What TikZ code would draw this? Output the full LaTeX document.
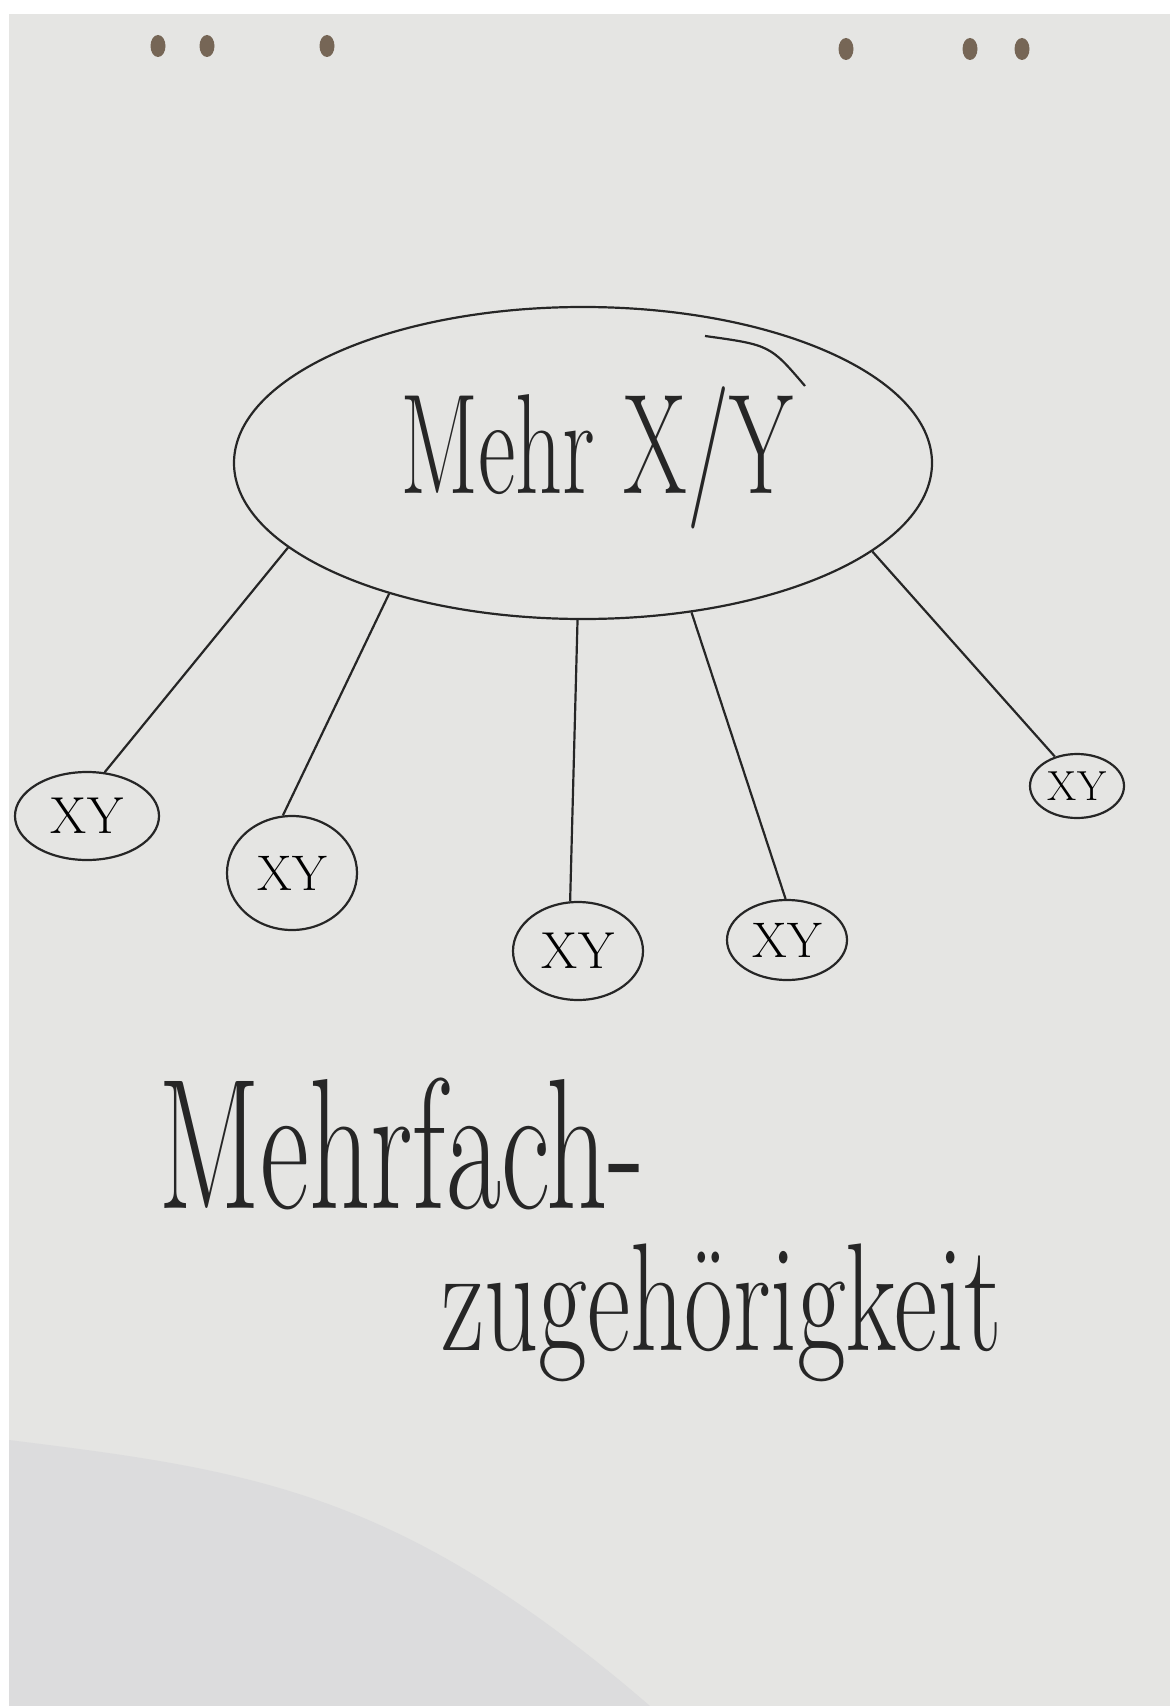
\documentclass[tikz,border=0pt]{standalone}
\usepackage{graphicx}
\usetikzlibrary{shapes.geometric}
\definecolor{paper}{RGB}{229,229,227}
\definecolor{crease}{RGB}{220,220,221}
\definecolor{hole}{RGB}{118,102,86}
\definecolor{ink}{RGB}{38,38,38}

\begin{document}
\begin{tikzpicture}[x=0.5pt,y=-0.5pt,
    pen/.style={draw=ink,line width=1.1pt},
    bubble/.style={pen,ellipse,inner sep=0pt},
    hand/.style={text=ink,inner sep=0pt,anchor=base west}]
  \useasboundingbox (0,0) rectangle (1170,1706);
  % sheet
  \fill[white] (0,0) rectangle (1170,1706);
  \fill[paper] (9,14) rectangle (1170,1706);
  \fill[crease] (9,1440) .. controls (250,1470) and (400,1490) .. (650,1706) -- (9,1706) -- cycle;
  % punch holes
  \foreach \px/\py in {158/46,207/46,327/46,846/49,970/49,1022/49}
    \fill[hole] (\px,\py) ellipse (7.5 and 11);
  % big bubble
  \node[bubble,minimum width=349pt,minimum height=156pt] (mehr) at (583,463) {};
  \draw[pen] (705,336) .. controls (770,345) .. (805,386);
  \node[hand,font=\fontsize{46}{46}\selectfont] (titel) at (400,493)
    {\scalebox{1}[1.55]{Mehr X/Y}};
  % small bubbles
  \node[bubble,minimum width=72pt,minimum height=44pt,font=\fontsize{26}{26}\selectfont] (xy1) at (87,816) {XY};
  \node[bubble,minimum width=65pt,minimum height=57pt,font=\fontsize{25}{25}\selectfont] (xy2) at (292,873) {XY};
  \node[bubble,minimum width=65pt,minimum height=49pt,font=\fontsize{26}{26}\selectfont] (xy3) at (578,951) {XY};
  \node[bubble,minimum width=60pt,minimum height=40pt,font=\fontsize{25}{25}\selectfont] (xy4) at (787,940) {XY};
  \node[bubble,minimum width=47pt,minimum height=32pt,font=\fontsize{21}{21}\selectfont] (xy5) at (1077,786) {XY};
  \draw[pen] (mehr.196) -- (xy1.68);
  \draw[pen] (mehr.214) -- (xy2.99);
  \draw[pen] (mehr.268) -- (xy3.99);
  \draw[pen] (mehr.306) -- (xy4.92);
  \draw[pen] (mehr.343) -- (xy5.127);
  % caption
  \node[hand,font=\fontsize{60}{60}\selectfont] (mehrfach) at (158,1208)
    {\scalebox{1}[1.55]{Mehrfach-}};
  \node[hand,font=\fontsize{53}{53}\selectfont] (zugehoerig) at (441,1350)
    {\scalebox{1}[1.45]{zugehörigkeit}};
\end{tikzpicture}
\end{document}
